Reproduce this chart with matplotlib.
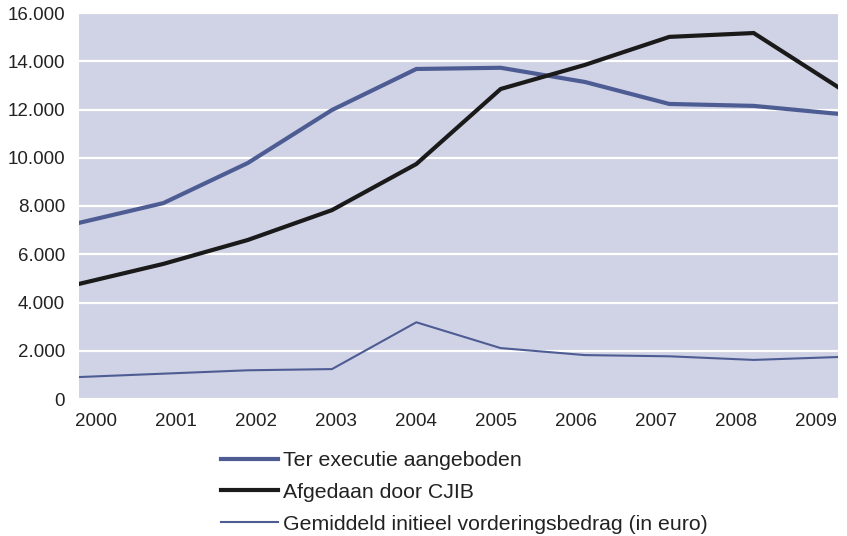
import matplotlib
matplotlib.use("Agg")
import matplotlib.pyplot as plt
from matplotlib.ticker import FuncFormatter

years = [2000, 2001, 2002, 2003, 2004, 2005, 2006, 2007, 2008, 2009]
ter_executie = [7300, 8120, 9780, 11980, 13680, 13730, 13140, 12230, 12150, 11820]
afgedaan = [4770, 5600, 6590, 7830, 9740, 12850, 13850, 15010, 15170, 12930]
gemiddeld = [910, 1050, 1190, 1240, 3180, 2110, 1820, 1770, 1620, 1740]

labels = ["Ter executie aangeboden", "Afgedaan door CJIB",
          "Gemiddeld initieel vorderingsbedrag (in euro)"]

plt.rcParams['font.family'] = ['Liberation Sans', 'DejaVu Sans']
fig = plt.figure(figsize=(8.47, 5.36), dpi=100)
ax = fig.add_axes([79/847, 1-399/536, (838-79)/847, (399-13)/536])
ax.set_facecolor('#d0d3e5')

blue = '#4e5c94'
ax.plot(years, ter_executie, color=blue, lw=3.0, label=labels[0], solid_joinstyle='miter')
ax.plot(years, afgedaan, color='#1a1a1a', lw=3.0, label=labels[1], solid_joinstyle='miter')
ax.plot(years, gemiddeld, color=blue, lw=1.5, label=labels[2])

ax.set_xlim(years[0], years[-1])
ax.set_ylim(0, 16000)
ax.set_yticks(range(0, 16001, 2000))
# category-style label placement (labels slightly inset from data points, as in the source)
span = years[-1] - years[0]
label_pos = [years[0] + span * (17 + 80 * i) / 759 for i in range(len(years))]
ax.set_xticks(label_pos)
ax.set_xticklabels([str(y) for y in years])
ax.yaxis.set_major_formatter(FuncFormatter(lambda v, p: '0' if v == 0 else f"{int(v):,}".replace(',', '.')))
ax.grid(axis='y', color='white', lw=1.6)
ax.grid(axis='x', visible=False)
ax.set_axisbelow(True)
for s in ax.spines.values():
    s.set_visible(False)
ax.tick_params(length=0, labelsize=13.5, colors='#222222')
ax.tick_params(axis='y', pad=10)
ax.tick_params(axis='x', pad=10)

leg = fig.legend(loc='upper left', bbox_to_anchor=(221/847, 1-451/536), frameon=False,
                 fontsize=15.3, handlelength=2.7, handletextpad=0.24, labelspacing=0.6,
                 borderpad=0, borderaxespad=0)
for t in leg.get_texts():
    t.set_color('#222222')

fig.savefig('out.png', dpi=100)
